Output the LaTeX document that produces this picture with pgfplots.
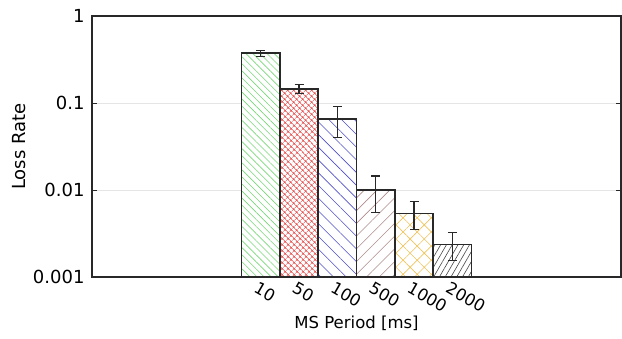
\documentclass[border=0pt]{standalone}
\usepackage{fontspec}
\setmainfont{DejaVu Sans}
\usepackage{pgfplots}
\pgfplotsset{compat=1.18}
\usetikzlibrary{patterns.meta}
\definecolor{cgreen}{RGB}{120,215,120}
\definecolor{cred}{RGB}{230,70,70}
\definecolor{cblue}{RGB}{80,80,200}
\definecolor{cbrown}{RGB}{175,140,140}
\definecolor{corange}{RGB}{240,195,90}
\definecolor{cgray}{RGB}{70,70,70}
\definecolor{axc}{RGB}{40,40,40}
\begin{document}
\begin{tikzpicture}
\begin{axis}[
  name=ax,
  scale only axis,
  width=529pt, height=261pt,
  font=\fontsize{18}{21}\selectfont,
  ymode=log, log origin y=infty,
  ymin=0.001, ymax=1,
  xmin=-4.4, xmax=9.4,
  ytick={0.001,0.01,0.1,1},
  yticklabels={0.001,0.01,0.1,1},
  yticklabel style={xshift=-4pt},
  yminorticks=false,
  ymajorgrids,
  grid style={gray!20, line width=0.8pt},
  xtick={0,1,2,3,4,5},
  xticklabels={10,50,100,500,1000,2000},
  xtick style={draw=none},
  xticklabel style={font=\fontsize{16.5}{19}\selectfont, rotate=-30, anchor=north west, inner sep=1pt, xshift=-3pt, yshift=1pt},
  major tick length=5pt,
  ytick style={axc, line width=1pt},
  axis line style={axc, line width=1.6pt},
  xlabel={MS Period [ms]},
  ylabel={Loss Rate},
  every axis y label/.style={at={(axis description cs:0,0.5)}, xshift=-73pt, rotate=90, anchor=center, font=\fontsize{18}{21}\selectfont},
  every axis x label/.style={at={(axis description cs:0.5,0)}, yshift=-46pt, anchor=center, font=\fontsize{16.5}{20}\selectfont},
  ybar, bar width=1, bar shift=0pt,
  error bars/y dir=both, error bars/y explicit,
  error bars/error bar style={axc, line width=1.1pt},
  error bars/error mark options={rotate=90, mark size=4.5pt, axc, line width=1.1pt},
  every axis plot/.append style={draw=axc, line width=1.4pt},
]
\addplot[fill=white, postaction={pattern={Lines[angle=-45,distance=5pt,line width=0.6pt]}, pattern color=cgreen}]
  coordinates {(0,0.376) +- (0,0.03)};
\addplot[fill=white, postaction={pattern={Hatch[angle=45,distance=4pt,line width=0.6pt]}, pattern color=cred}]
  coordinates {(1,0.145) +- (0,0.017)};
\addplot[fill=white, postaction={pattern={Lines[angle=-45,distance=9pt,line width=0.6pt]}, pattern color=cblue}]
  coordinates {(2,0.0655) +- (0,0.025)};
\addplot[fill=white, postaction={pattern={Lines[angle=45,distance=9pt,line width=0.6pt]}, pattern color=cbrown}]
  coordinates {(3,0.0100) +- (0,0.0045)};
\addplot[fill=white, postaction={pattern={Hatch[angle=45,distance=10pt,line width=0.6pt]}, pattern color=corange}]
  coordinates {(4,0.0054) +- (0,0.0019)};
\addplot[fill=white, postaction={pattern={Lines[angle=60,distance=5pt,line width=0.6pt]}, pattern color=cgray}]
  coordinates {(5,0.00238) +- (0,0.00085)};
\end{axis}
\path ([xshift=-92pt,yshift=16pt]ax.north west) ([xshift=1pt,yshift=-61pt]ax.south east);
\end{tikzpicture}
\end{document}
